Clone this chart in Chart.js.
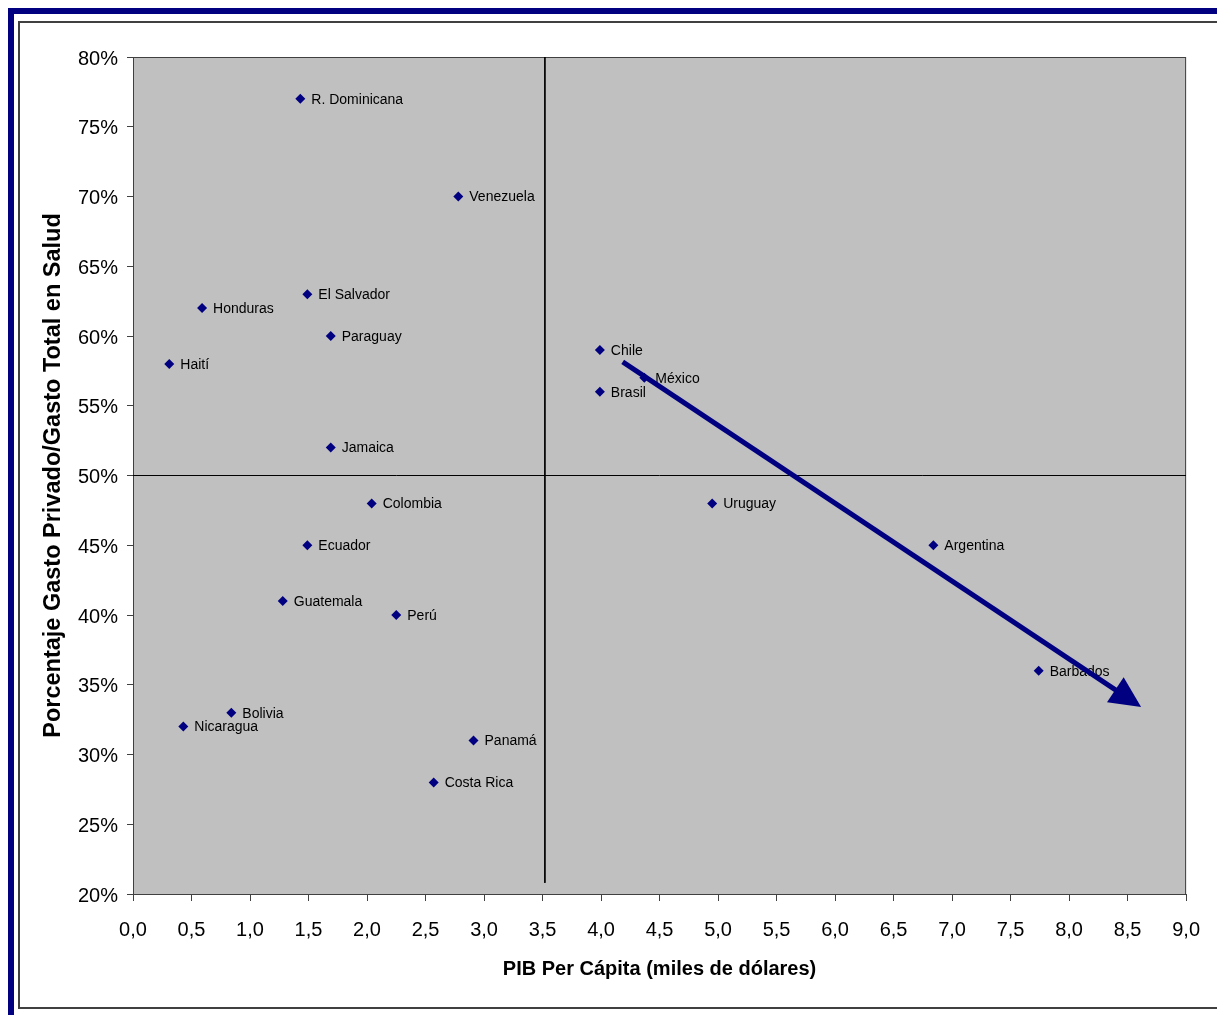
<!DOCTYPE html>
<html>
<head>
<meta charset="utf-8">
<script src="https://cdn.jsdelivr.net/npm/chart.js@4/dist/chart.umd.min.js"></script>
<style>
  html, body { margin: 0; padding: 0; background: #ffffff; }
  #wrap { position: relative; width: 1217px; height: 1015px; overflow: hidden; }
  .frame-top { position: absolute; left: 8px; top: 8px; width: 1209px; height: 6px; background: #000080; }
  .frame-left { position: absolute; left: 8px; top: 8px; width: 6px; height: 1007px; background: #000080; }
  .inner { position: absolute; left: 18px; top: 21px; width: 1240px; height: 988px; border: 2px solid #404040; box-sizing: border-box; }
  #chart { position: absolute; left: 0; top: 0; }
</style>
</head>
<body>
<div id="wrap">
  <div class="frame-top"></div>
  <div class="frame-left"></div>
  <div class="inner"></div>
  <canvas id="chart" width="1217" height="1015"></canvas>
</div>
<script>
// Países y sus valores: PIB per cápita (miles de dólares) y % de gasto privado en salud
const countries = ['R. Dominicana', 'Venezuela', 'El Salvador', 'Honduras', 'Paraguay', 'Haití',
  'Jamaica', 'Colombia', 'Ecuador', 'Guatemala', 'Perú', 'Bolivia', 'Nicaragua', 'Panamá',
  'Costa Rica', 'Chile', 'México', 'Brasil', 'Uruguay', 'Argentina', 'Barbados'];
const pibPerCapita = [1.43, 2.78, 1.49, 0.59, 1.69, 0.31, 1.69, 2.04, 1.49, 1.28, 2.25, 0.84, 0.43,
  2.91, 2.57, 3.99, 4.37, 3.99, 4.95, 6.84, 7.74];
const gastoPrivado = [77, 70, 63, 62, 60, 58, 52, 48, 45, 41, 40, 33, 32, 31, 28, 59, 57, 56, 48, 45, 36];

// Líneas divisorias de cuadrantes
const divisorX = [3.52, 3.52];
const divisorXy = [80, 20.8];
const divisorY = [0, 9];
const divisorYy = [50, 50];

// Flecha de tendencia (inicio, fin del trazo; la punta se prolonga un poco más)
const flechaX = [4.185, 8.573];
const flechaY = [58.15, 33.65];

// Etiquetas de los ejes
const xTickLabels = ['0,0', '0,5', '1,0', '1,5', '2,0', '2,5', '3,0', '3,5', '4,0', '4,5', '5,0',
  '5,5', '6,0', '6,5', '7,0', '7,5', '8,0', '8,5', '9,0'];
const yTickLabels = ['20%', '25%', '30%', '35%', '40%', '45%', '50%', '55%', '60%', '65%', '70%', '75%', '80%'];

const FONT = '"Liberation Sans", Arial, sans-serif';
const NAVY = '#000080';

const scatterData = countries.map((c, i) => ({ x: pibPerCapita[i], y: gastoPrivado[i] }));

const plotPlugin = {
  id: 'plotDecor',
  beforeDraw(chart) {
    const { ctx, chartArea: a } = chart;
    ctx.save();
    ctx.fillStyle = '#c0c0c0';
    ctx.fillRect(a.left, a.top, a.right - a.left, a.bottom - a.top);
    ctx.restore();
  },
  beforeDatasetsDraw(chart) {
    const { ctx, chartArea: a } = chart;
    ctx.save();
    ctx.strokeStyle = '#404040';
    ctx.lineWidth = 1;
    ctx.strokeRect(a.left + 0.5, a.top + 0.5, a.right - a.left - 1, a.bottom - a.top);
    ctx.restore();
  },
  afterDatasetDraw(chart, args) {
    const { ctx } = chart;
    const ds = chart.data.datasets[args.index];
    if (ds.label === 'Países') {
      // Nombre de cada país a la derecha de su marcador
      ctx.save();
      ctx.font = '14px ' + FONT;
      ctx.fillStyle = '#000000';
      ctx.textAlign = 'left';
      ctx.textBaseline = 'middle';
      args.meta.data.forEach((pt, i) => {
        ctx.fillText(countries[i], pt.x + 11, pt.y + 1);
      });
      ctx.restore();
    } else if (ds.label === 'Tendencia') {
      // Punta de la flecha, prolongada 6 px más allá del trazo
      const p0 = args.meta.data[0];
      const p1 = args.meta.data[1];
      const ang = Math.atan2(p1.y - p0.y, p1.x - p0.x);
      const cx = Math.cos(ang), sy = Math.sin(ang);
      const tipX = p1.x + 6 * cx, tipY = p1.y + 6 * sy;
      const len = 31, half = 15;
      const bx = tipX - len * cx;
      const by = tipY - len * sy;
      ctx.save();
      ctx.fillStyle = NAVY;
      ctx.beginPath();
      ctx.moveTo(tipX, tipY);
      ctx.lineTo(bx + half * sy, by - half * cx);
      ctx.lineTo(bx - half * sy, by + half * cx);
      ctx.closePath();
      ctx.fill();
      ctx.restore();
    }
  }
};

new Chart(document.getElementById('chart'), {
  type: 'scatter',
  data: {
    datasets: [
      {
        label: 'Tendencia',
        type: 'line',
        data: flechaX.map((x, i) => ({ x, y: flechaY[i] })),
        borderColor: NAVY,
        borderWidth: 5,
        borderCapStyle: 'butt',
        pointRadius: 0,
        showLine: true,
        fill: false,
        order: 0
      },
      {
        label: 'Países',
        data: scatterData,
        pointStyle: 'rectRot',
        pointRadius: 5,
        pointBackgroundColor: NAVY,
        pointBorderColor: NAVY,
        pointBorderWidth: 0,
        showLine: false,
        order: 1
      },
      {
        label: 'DivisorX',
        type: 'line',
        data: divisorX.map((x, i) => ({ x, y: divisorXy[i] })),
        borderColor: '#000000',
        borderWidth: 1,
        pointRadius: 0,
        fill: false,
        order: 2
      },
      {
        label: 'DivisorY',
        type: 'line',
        data: divisorY.map((x, i) => ({ x, y: divisorYy[i] })),
        borderColor: '#000000',
        borderWidth: 1,
        pointRadius: 0,
        fill: false,
        order: 2
      }
    ]
  },
  options: {
    responsive: false,
    animation: false,
    devicePixelRatio: 1,
    layout: { padding: { left: 20, top: 57, right: 30, bottom: 0 } },
    plugins: {
      legend: { display: false },
      tooltip: { enabled: false }
    },
    scales: {
      x: {
        type: 'linear',
        min: 0,
        max: 9,
        afterFit(scale) { scale.height = 121; },
        ticks: {
          stepSize: 0.5,
          color: '#000000',
          font: { family: FONT, size: 20 },
          padding: 17,
          maxRotation: 0,
          autoSkip: false,
          callback: (v, i) => xTickLabels[i]
        },
        grid: { drawOnChartArea: false, drawTicks: true, tickLength: 7, color: '#404040' },
        border: { display: true, color: '#404040', width: 1 },
        title: {
          display: true,
          text: 'PIB Per Cápita (miles de dólares)',
          color: '#000000',
          font: { family: FONT, size: 20, weight: 'bold' },
          padding: { top: 0, bottom: 34 }
        }
      },
      y: {
        type: 'linear',
        min: 20,
        max: 80,
        afterFit(scale) { scale.width = 113; },
        ticks: {
          stepSize: 5,
          color: '#000000',
          font: { family: FONT, size: 20 },
          padding: 9,
          labelOffset: 2,
          autoSkip: false,
          callback: (v, i) => yTickLabels[i]
        },
        grid: { drawOnChartArea: false, drawTicks: true, tickLength: 6, color: '#404040' },
        border: { display: true, color: '#404040', width: 1 },
        title: {
          display: true,
          text: 'Porcentaje Gasto Privado/Gasto Total en Salud',
          color: '#000000',
          font: { family: FONT, size: 23.5, weight: 'bold' },
          padding: { top: 19, bottom: 0 }
        }
      }
    }
  },
  plugins: [plotPlugin]
});
</script>
</body>
</html>
